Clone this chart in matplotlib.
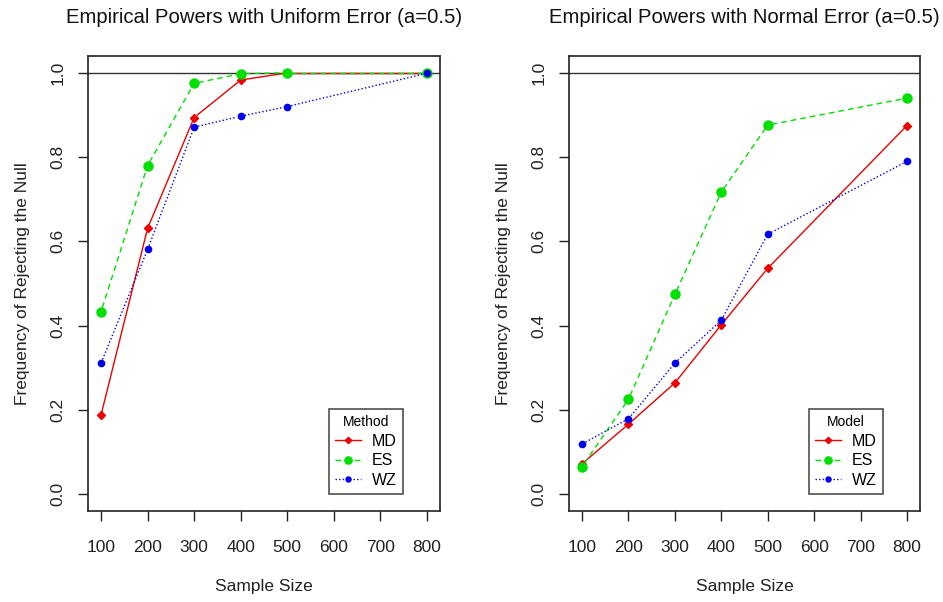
import matplotlib
matplotlib.use("Agg")
import matplotlib.pyplot as plt
import numpy as np

plt.rcParams['font.family'] = ['Liberation Sans', 'DejaVu Sans']

sample_size = [100, 200, 300, 400, 500, 800]
x_ticks = [100, 200, 300, 400, 500, 600, 700, 800]
y_ticks = [0.0, 0.2, 0.4, 0.6, 0.8, 1.0]

uniform_md = [0.188, 0.631, 0.894, 0.983, 1.0, 1.0]
uniform_es = [0.433, 0.780, 0.975, 0.998, 1.0, 1.0]
uniform_wz = [0.311, 0.581, 0.871, 0.897, 0.920, 0.999]

normal_md = [0.072, 0.166, 0.264, 0.402, 0.536, 0.875]
normal_es = [0.065, 0.225, 0.474, 0.717, 0.876, 0.940]
normal_wz = [0.119, 0.179, 0.311, 0.413, 0.617, 0.790]

series_names = ["MD", "ES", "WZ"]
colors = ["#ee0000", "#00e000", "#0000ee"]
styles = ["-", (0, (4, 3)), (0, (1, 1.6))]
markers = ["D", "o", "o"]
msizes = [4.0, 6.5, 4.5]

fig = plt.figure(figsize=(9.43, 6.02), dpi=100)
W, H = 943, 602
axes_boxes = [(88, 56, 440, 511), (569, 56, 920, 511)]
titles = ["Empirical Powers with Uniform Error (a=0.5)",
          "Empirical Powers with Normal Error (a=0.5)"]
leg_titles = ["Method", "Model"]
data = [[uniform_md, uniform_es, uniform_wz], [normal_md, normal_es, normal_wz]]

gap = 4.0  # pixel gap around points (R type="b")

for k in range(2):
    x0, y0, x1, y1 = axes_boxes[k]
    ax = fig.add_axes([x0 / W, 1 - y1 / H, (x1 - x0) / W, (y1 - y0) / H])
    ax.set_xlim(72, 828)
    ax.set_ylim(-0.04, 1.04)
    ax.axhline(1.0, color="#333333", lw=1.0, zorder=1)
    fig.canvas.draw()
    handles = []
    for s in range(3):
        ys = data[k][s]
        pts = ax.transData.transform(np.column_stack([sample_size, ys]))
        for i in range(len(pts) - 1):
            p, q = pts[i], pts[i + 1]
            d = q - p
            L = np.hypot(*d)
            if L <= 2 * gap:
                continue
            u = d / L
            a = p + u * gap
            b = q - u * gap
            ab = ax.transData.inverted().transform(np.vstack([a, b]))
            ax.plot(ab[:, 0], ab[:, 1], color=colors[s], linestyle=styles[s],
                    lw=1.0, zorder=2)
        ax.plot(sample_size, ys, linestyle="none", marker=markers[s],
                ms=msizes[s], color=colors[s], mec=colors[s], zorder=3)
        h, = ax.plot([], [], color=colors[s], linestyle=styles[s], lw=1.0,
                     marker=markers[s], ms=msizes[s] * 0.8, mec=colors[s],
                     label=series_names[s])
        handles.append(h)
    ax.set_xticks(x_ticks)
    ax.set_xticklabels([str(v) for v in x_ticks])
    ax.set_yticks(y_ticks)
    ax.set_yticklabels([f"{v:.1f}" for v in y_ticks], rotation=90, va="center")
    ax.tick_params(axis="both", direction="out", length=7, width=1,
                   labelsize=12.5, colors="#222222")
    ax.tick_params(axis="x", pad=14)
    ax.tick_params(axis="y", pad=9)
    for sp in ax.spines.values():
        sp.set_linewidth(1.2)
        sp.set_color("#222222")
    ax.set_xlabel("Sample Size", fontsize=12.5, labelpad=17, color="#222222")
    ax.set_ylabel("Frequency of Rejecting the Null", fontsize=12.5,
                  labelpad=15, color="#222222")
    ax.set_title(titles[k], fontsize=14.6, pad=24, color="#111111")
    leg = ax.legend(handles=handles, title=leg_titles[k], loc="lower right",
                    bbox_to_anchor=(0.895, 0.037), borderaxespad=0,
                    frameon=True, fancybox=False,
                    fontsize=11.5, title_fontsize=10, handlelength=1.6,
                    markerfirst=True, borderpad=0.4, labelspacing=0.28,
                    handletextpad=0.7)
    leg.get_frame().set_edgecolor("#222222")
    leg.get_frame().set_linewidth(1.2)

fig.savefig("out.png", dpi=100)
